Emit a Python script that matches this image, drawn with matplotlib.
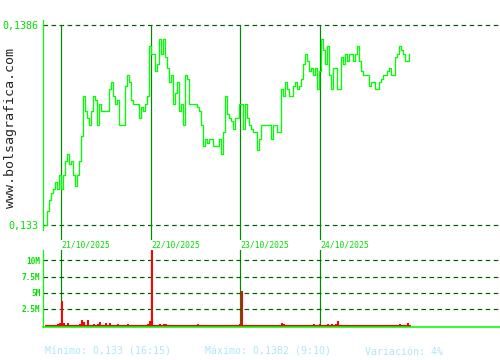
import numpy as np
import matplotlib
matplotlib.use("Agg")
import matplotlib.pyplot as plt

# intraday prices, one sample per slot (20/10 close to 24/10)
price = [
    0.1330, 0.1334, 0.1337, 0.1339, 0.1340, 0.1342, 0.1340, 0.1344, 0.1340, 0.1344,
    0.1348, 0.1350, 0.1347, 0.1348, 0.1344, 0.1341, 0.1344, 0.1348, 0.1355, 0.1366,
    0.1362, 0.1360, 0.1358, 0.1362, 0.1366, 0.1365, 0.1358, 0.1364, 0.1362, 0.1362,
    0.1362, 0.1362, 0.1368, 0.1370, 0.1366, 0.1364, 0.1365, 0.1358, 0.1358, 0.1358,
    0.1369, 0.1372, 0.1370, 0.1365, 0.1364, 0.1364, 0.1364, 0.1360, 0.1363, 0.1362,
    0.1364, 0.1366, 0.1380, 0.1378, 0.1378, 0.1373, 0.1375, 0.1382, 0.1378, 0.1382,
    0.1377, 0.1374, 0.1370, 0.1372, 0.1364, 0.1367, 0.1370, 0.1362, 0.1364, 0.1358,
    0.1372, 0.1371, 0.1364, 0.1364, 0.1364, 0.1364, 0.1363, 0.1362, 0.1358, 0.1352,
    0.1354, 0.1353, 0.1354, 0.1354, 0.1352, 0.1352, 0.1352, 0.1354, 0.1350, 0.1356,
    0.1366, 0.1361, 0.1360, 0.1359, 0.1357, 0.1360, 0.1360, 0.1364, 0.1364, 0.1357,
    0.1364, 0.1360, 0.1358, 0.1357, 0.1356, 0.1356, 0.1351, 0.1354, 0.1358, 0.1358,
    0.1358, 0.1358, 0.1358, 0.1354, 0.1358, 0.1358, 0.1356, 0.1356, 0.1368, 0.1366,
    0.1370, 0.1368, 0.1366, 0.1366, 0.1369, 0.1370, 0.1368, 0.1369, 0.1371, 0.1375,
    0.1378, 0.1376, 0.1373, 0.1374, 0.1372, 0.1374, 0.1368, 0.1373, 0.1382, 0.1379,
    0.1375, 0.1380, 0.1372, 0.1368, 0.1374, 0.1374, 0.1368, 0.1368, 0.1377, 0.1375,
    0.1378, 0.1376, 0.1378, 0.1378, 0.1376, 0.1378, 0.1380, 0.1376, 0.1373, 0.1372,
    0.1372, 0.1372, 0.1369, 0.1370, 0.1370, 0.1368, 0.1368, 0.1370, 0.1371, 0.1372,
    0.1372, 0.1373, 0.1374, 0.1372, 0.1372, 0.1377, 0.1378, 0.1380, 0.1379, 0.1378,
    0.1376, 0.1376, 0.1378,
]

# traded volume per slot, millions
volume = [
    0.1, 0.1, 0.1, 0.1, 0.1, 0.1, 0.15, 0.3, 3.8, 0.4,
    0.1, 0.3, 0.1, 0.1, 0.1, 0.1, 0.1, 0.25, 0.8, 0.5,
    0.1, 0.83, 0.1, 0.1, 0.15, 0.1, 0.15, 0.5, 0.1, 0.1,
    0.4, 0.1, 0.4, 0.1, 0.1, 0.1, 0.25, 0.1, 0.1, 0.1,
    0.1, 0.2, 0.1, 0.1, 0.1, 0.1, 0.1, 0.1, 0.1, 0.1,
    0.1, 0.15, 0.7, 14.0, 0.1, 0.1, 0.1, 0.25, 0.1, 0.15,
    0.25, 0.1, 0.1, 0.1, 0.1, 0.1, 0.1, 0.1, 0.1, 0.1,
    0.1, 0.1, 0.1, 0.1, 0.1, 0.1, 0.25, 0.1, 0.1, 0.1,
    0.1, 0.1, 0.1, 0.1, 0.1, 0.1, 0.1, 0.1, 0.1, 0.1,
    0.1, 0.1, 0.1, 0.1, 0.1, 0.1, 0.1, 0.15, 5.2, 0.1,
    0.1, 0.1, 0.1, 0.1, 0.1, 0.1, 0.1, 0.1, 0.1, 0.1,
    0.1, 0.1, 0.1, 0.1, 0.1, 0.1, 0.1, 0.1, 0.4, 0.25,
    0.1, 0.1, 0.1, 0.1, 0.1, 0.1, 0.1, 0.1, 0.1, 0.1,
    0.1, 0.1, 0.1, 0.1, 0.15, 0.1, 0.1, 0.25, 0.1, 0.1,
    0.1, 0.25, 0.1, 0.15, 0.1, 0.25, 0.7, 0.1, 0.1, 0.1,
    0.1, 0.1, 0.1, 0.1, 0.1, 0.1, 0.1, 0.1, 0.1, 0.1,
    0.1, 0.1, 0.1, 0.1, 0.1, 0.1, 0.1, 0.1, 0.1, 0.1,
    0.1, 0.1, 0.1, 0.1, 0.1, 0.1, 0.1, 0.2, 0.1, 0.1,
    0.1, 0.4, 0.1,
]

# slot where each session opens
day_start = [8, 53, 97.5, 137.5]
day_labels = ["21/10/2025", "22/10/2025", "23/10/2025", "24/10/2025"]

price_ticks = [0.133, 0.1386]
price_tick_labels = ["0,133", "0,1386"]
vol_ticks = [2.5, 5, 7.5, 10]
vol_tick_labels = ["2.5M", "5M", "7.5M", "10M"]

footer = ["Mínimo: 0,133 (16:15)", "Máximo: 0,1382 (9:10)", "Variación: 4%"]

LIME = "#00ff00"
LABEL = "#00e000"
SEP = "#008c00"
GRID = "#005f00"
MONO = "DejaVu Sans Mono"
PX = 0.72  # one pixel in points

W, H = 500, 360
fig = plt.figure(figsize=(5, 3.6), dpi=100)


def box(x0, y0, x1, y1):
    return [x0 / W, 1 - y1 / H, (x1 - x0) / W, (y1 - y0) / H]


idx = np.arange(len(price))
xlim = (-1, 227.5)

# price panel
ax = fig.add_axes(box(43, 20, 500, 240))
ax.set_xlim(*xlim)
ax.set_ylim(0.13258, 0.13874)
for s in ["top", "right", "bottom"]:
    ax.spines[s].set_visible(False)
ax.spines["left"].set_color(LIME)
ax.spines["left"].set_linewidth(1.2 * PX)
ax.spines["left"].set_bounds(0.13286, 0.13874)
ax.set_xticks([])
ax.set_yticks(price_ticks)
ax.set_yticklabels(price_tick_labels, family=MONO, fontsize=7.2, color=LABEL)
ax.tick_params(axis="y", length=0, pad=3)

for p in price_ticks:
    ax.axhline(p, color=GRID, lw=1.2 * PX, dashes=(3.8, 2.9))
ax.vlines(day_start, 0.13258, max(price_ticks), color=SEP, lw=1.2 * PX)
ax.step(idx, price, where="post", color=LIME, lw=1.3 * PX)

for d, lab in zip(day_start, day_labels):
    ax.text(d + 0.4, 0.13258, lab, family=MONO, fontsize=5.9, color=LABEL,
            ha="left", va="top")

# volume panel
vmin = -0.2
axv = fig.add_axes(box(43, 250, 500, 326.5))
axv.set_xlim(*xlim)
axv.set_ylim(vmin, 11.6)
for s in ["top", "right"]:
    axv.spines[s].set_visible(False)
axv.spines["left"].set_color(LIME)
axv.spines["bottom"].set_color(LIME)
axv.spines["left"].set_linewidth(1.2 * PX)
axv.spines["bottom"].set_linewidth(1.6 * PX)
axv.set_xticks([])
axv.set_yticks(vol_ticks)
axv.set_yticklabels(vol_tick_labels, family=MONO, fontsize=5.6, color=LABEL,
                    fontweight="bold")
axv.tick_params(axis="y", length=0, pad=2)
for v in vol_ticks:
    axv.axhline(v, color=GRID, lw=1.2 * PX, dashes=(3.8, 2.9))
for d in day_start:
    axv.axvline(d, color=SEP, lw=1.2 * PX, zorder=1)
vol = np.array(volume)
axv.bar(idx, vol - vmin, bottom=vmin, width=0.9, align="edge",
        color="#ff0000", linewidth=0, zorder=2)

# site watermark and footer
fig.text(11 / W, 1 - 128 / H, "www.bolsagrafica.com", rotation=90,
         family=MONO, fontsize=9.6, color="#262626", ha="center", va="center")
for xpx, txt in zip([45, 205, 365], footer):
    fig.text(xpx / W, 1 - 352 / H, txt, family=MONO, fontsize=7.1,
             color="#aee6fb", ha="left", va="center")

fig.savefig("out.png", dpi=100)
